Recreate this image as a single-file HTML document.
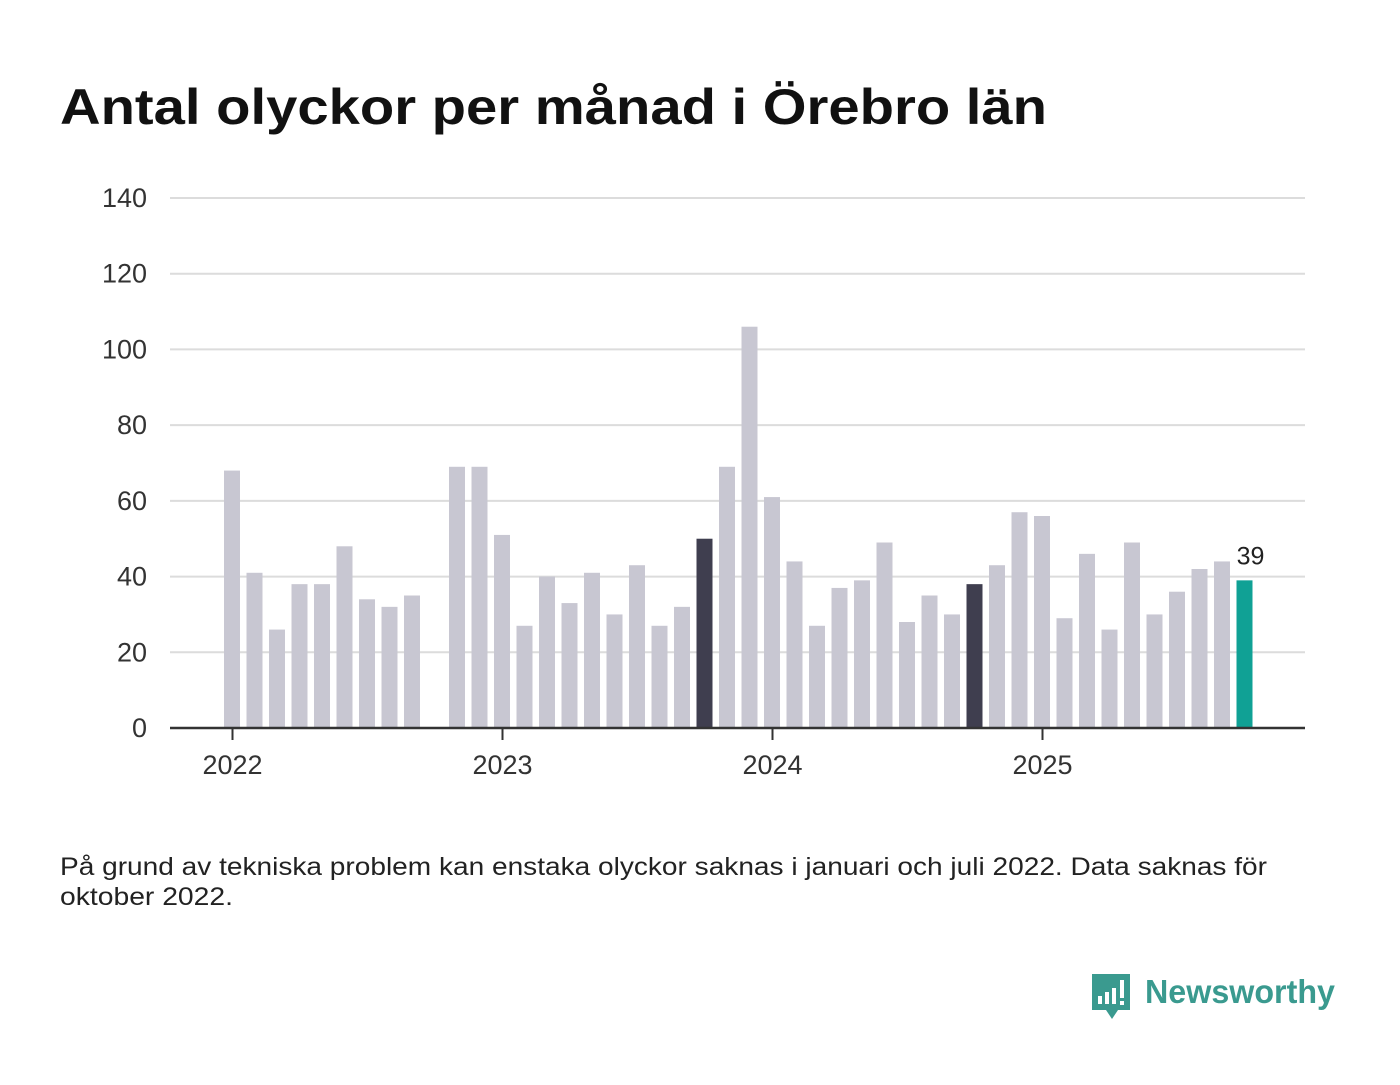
<!DOCTYPE html>
<html><head><meta charset="utf-8"><style>
body{margin:0;background:#fff;width:1400px;height:1080px;overflow:hidden;font-family:"Liberation Sans",sans-serif;}
</style></head><body>
<svg width="1400" height="1080">
<text x="60" y="124" font-size="50" font-weight="bold" fill="#111" textLength="987" lengthAdjust="spacingAndGlyphs">Antal olyckor per månad i Örebro län</text>
<g id="grid"></g><g id="bars"></g><g id="xaxis"></g>
<text x="60" y="875" font-size="25" fill="#222" textLength="1207" lengthAdjust="spacingAndGlyphs">På grund av tekniska problem kan enstaka olyckor saknas i januari och juli 2022. Data saknas för</text>
<text x="60" y="905" font-size="25" fill="#222" textLength="173" lengthAdjust="spacingAndGlyphs">oktober 2022.</text>
<g>
<path d="M1092 974 h38 v36 h-12 l-6 9 l-6 -9 h-14 z" fill="#3a9a8f"/>
<rect x="1098" y="996" width="4" height="8" fill="#fff"/><rect x="1105" y="992" width="4" height="12" fill="#fff"/><rect x="1112" y="988" width="4" height="16" fill="#fff"/><rect x="1120" y="980" width="4" height="18" fill="#fff"/><rect x="1120" y="1001" width="4" height="4" fill="#fff"/>
<text x="1145" y="1003" font-size="33" font-weight="bold" fill="#3a9a8f" textLength="190" lengthAdjust="spacingAndGlyphs">Newsworthy</text>
</g>
</svg>
<script>
const values=[68,41,26,38,38,48,34,32,35,null,69,69,
51,27,40,33,41,30,43,27,32,50,69,106,
61,44,27,37,39,49,28,35,30,38,43,57,
56,29,46,26,49,30,36,42,44,39];
const highlight=[21,33];
const yTicks=[0,20,40,60,80,100,120,140];
const years=["2022","2023","2024","2025"];
const NS="http://www.w3.org/2000/svg";
const y=v=>728-v*(530/140);
const x=i=>232+i*22.5;
function mk(t,a,p){const e=document.createElementNS(NS,t);for(const k in a)e.setAttribute(k,a[k]);p.appendChild(e);return e;}
const g=document.getElementById('grid');
yTicks.forEach(t=>{
 if(t>0){const l=mk('line',{x1:170,x2:1305,y1:y(t),y2:y(t),stroke:'#dcdcdc','stroke-width':2},g);
 
 }
 const tx=mk('text',{x:147,y:y(t)+9,'font-size':27,fill:'#333','text-anchor':'end'},g);tx.textContent=t;
 
 
});
const b=document.getElementById('bars');
values.forEach((v,i)=>{
 if(v==null)return;
 let c='#c8c7d2';if(highlight.includes(i))c='#3f3e4f';if(i==values.length-1)c='#10a195';
 const r=mk('rect',{x:x(i)-8,y:y(v),width:16,height:728-y(v),fill:c},b);
 
 
});
const li=values.length-1;
const lab=mk('text',{x:x(li)+6,y:y(values[li])-16,'font-size':25,fill:'#222','text-anchor':'middle'},b);lab.textContent=values[li];


const xa=document.getElementById('xaxis');
const ax=mk('line',{x1:170,x2:1305,y1:728,y2:728,stroke:'#333','stroke-width':2.5},xa);


years.forEach((yr,k)=>{
 const xx=x(k*12)+0.5;
 mk('line',{x1:xx,x2:xx,y1:728,y2:740,stroke:'#333','stroke-width':2},xa);
 const t=mk('text',{x:xx,y:774,'font-size':27,fill:'#333','text-anchor':'middle'},xa);t.textContent=yr;
 
 
});
</script>
</body></html>
